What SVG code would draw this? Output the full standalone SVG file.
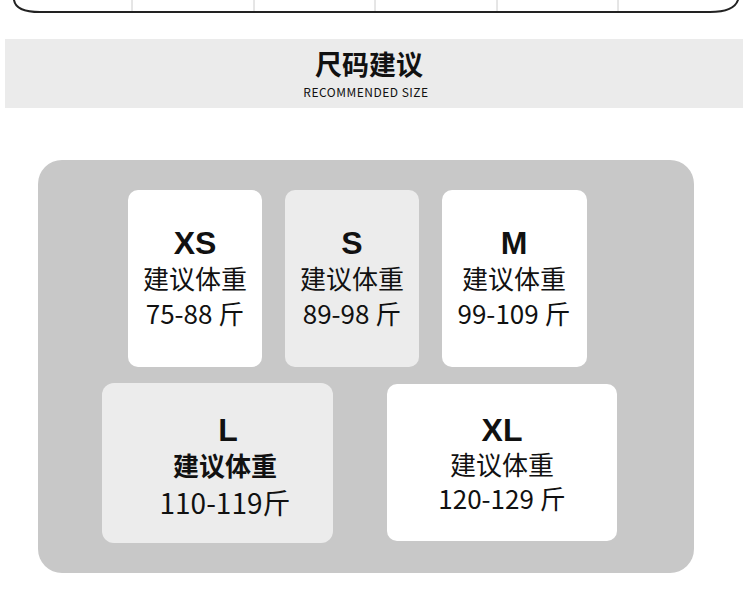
<svg xmlns="http://www.w3.org/2000/svg" width="750" height="616" viewBox="0 0 750 616">
<style>
text{font-family:"Noto Sans CJK SC","Liberation Sans",sans-serif;fill:#111;text-anchor:middle}
.sz{font-family:"Liberation Sans","Noto Sans CJK SC",sans-serif;font-weight:bold;font-size:32px}
.lb{font-size:26px}
.nm{font-size:26px}
.w{fill:#fff}
.g{fill:#ececec}
</style>
<rect width="750" height="616" fill="#fff"/>
<g id="table-edge" fill="none" stroke="#222" stroke-width="2">
<path d="M14 -10 L14 0 Q16 12 40 12 L710 12 Q734 12 738 0 L738 -10"/>
<g stroke="#ccc" stroke-width="1"><line x1="132" y1="0" x2="132" y2="11"/><line x1="254" y1="0" x2="254" y2="11"/><line x1="375" y1="0" x2="375" y2="11"/><line x1="497" y1="0" x2="497" y2="11"/><line x1="618" y1="0" x2="618" y2="11"/></g>
</g>
<g id="header">
<rect x="5" y="39" width="738" height="69" fill="#ebebeb"/>
<text x="369" y="75" font-size="27" font-weight="bold">尺码建议</text>
<text x="366" y="97" font-size="12" font-family="Liberation Sans,sans-serif" letter-spacing="0.5">RECOMMENDED SIZE</text>
</g>
<rect id="panel" x="38" y="160" width="656" height="413" rx="24" fill="#c8c8c8"/>
<g id="xs"><rect class="w" x="128" y="190" width="134" height="177" rx="10"/>
<text class="sz" x="195" y="254">XS</text><text class="lb" x="195" y="289">建议体重</text><text class="nm" x="195" y="324">75-88 斤</text></g>
<g id="s"><rect class="g" x="285" y="190" width="134" height="177" rx="10"/>
<text class="sz" x="352" y="254">S</text><text class="lb" x="352" y="289">建议体重</text><text class="nm" x="352" y="324">89-98 斤</text></g>
<g id="m"><rect class="w" x="442" y="190" width="145" height="177" rx="10"/>
<text class="sz" x="514" y="254">M</text><text class="lb" x="514" y="289">建议体重</text><text class="nm" x="514" y="324">99-109 斤</text></g>
<g id="l"><rect class="g" x="102" y="383" width="231" height="160" rx="12"/>
<text class="sz" x="228" y="441">L</text><text class="lb" x="225" y="476" font-weight="bold">建议体重</text><text x="225" y="514" font-size="28">110-119斤</text></g>
<g id="xl"><rect class="w" x="387" y="384" width="230" height="157" rx="10"/>
<text class="sz" x="502" y="441">XL</text><text class="lb" x="502" y="475">建议体重</text><text class="nm" x="502" y="509">120-129 斤</text></g>
</svg>
